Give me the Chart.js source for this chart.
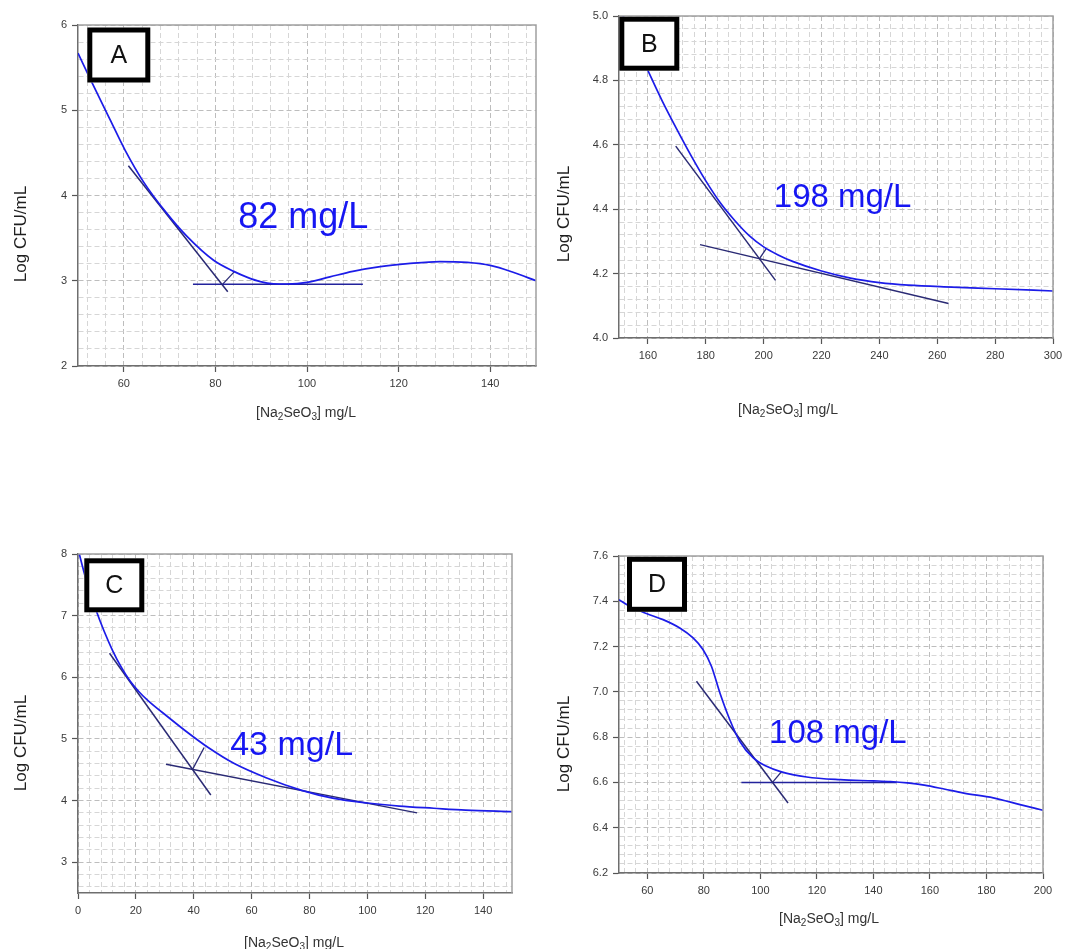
<!DOCTYPE html>
<html>
<head>
<meta charset="utf-8">
<script src="https://cdn.jsdelivr.net/npm/chart.js@4.4.0/dist/chart.umd.min.js"></script>
<style>
html, body { margin: 0; padding: 0; background: #ffffff; }
body { width: 1083px; height: 949px; position: relative; overflow: hidden; }
canvas { position: absolute; display: block; }
</style>
</head>
<body>
<canvas id="cA" width="541" height="440" style="left:0px;top:0px;width:541px;height:440px"></canvas>
<canvas id="cB" width="542" height="440" style="left:541px;top:0px;width:542px;height:440px"></canvas>
<canvas id="cC" width="541" height="509" style="left:0px;top:440px;width:541px;height:509px"></canvas>
<canvas id="cD" width="542" height="509" style="left:541px;top:440px;width:542px;height:509px"></canvas>
<script>
// ================= DATA =================
// Panel A
const aCurveX = [50, 53, 57, 60.3, 64.3, 69.4, 73.8, 79.6, 84, 87, 89.8, 92.7, 95.6, 100, 105, 110, 116, 122, 129, 135, 140, 145, 150];
const aCurveY = [5.67, 5.33, 4.89, 4.53, 4.16, 3.79, 3.52, 3.24, 3.11, 3.04, 2.99, 2.965, 2.962, 2.98, 3.045, 3.11, 3.165, 3.2, 3.225, 3.215, 3.18, 3.1, 3.0];
const aTanSteepX = [61.0, 82.7];
const aTanSteepY = [4.35, 2.87];
const aTanFlatX = [75.1, 112.2];
const aTanFlatY = [2.96, 2.96];
const aBisX = [81.6, 84.2];
const aBisY = [2.96, 3.11];
const aXTicks = [60, 80, 100, 120, 140];
const aYTicks = ['2', '3', '4', '5', '6'];

// Panel B
const bCurveX = [150, 156, 160, 165, 170, 175, 180, 185, 190, 195, 200, 205, 210, 220, 230, 240, 250, 265, 280, 300];
const bCurveY = [5.03, 4.905, 4.83, 4.735, 4.648, 4.565, 4.488, 4.42, 4.365, 4.318, 4.283, 4.258, 4.238, 4.208, 4.186, 4.172, 4.164, 4.158, 4.153, 4.146];
const bTanSteepX = [169.6, 204.1];
const bTanSteepY = [4.596, 4.179];
const bTanFlatX = [178, 263.9];
const bTanFlatY = [4.29, 4.107];
const bBisX = [198.5, 201];
const bBisY = [4.246, 4.279];
const bXTicks = [160, 180, 200, 220, 240, 260, 280, 300];
const bYTicks = ['4.0', '4.2', '4.4', '4.6', '4.8', '5.0'];

// Panel C
const cCurveX = [0, 3, 6, 9, 12, 15, 18, 21, 24, 31, 38, 45, 54, 65, 77, 88, 100, 111, 123, 134, 150];
const cCurveY = [8.08, 7.55, 7.12, 6.75, 6.43, 6.16, 5.94, 5.77, 5.63, 5.36, 5.10, 4.86, 4.60, 4.37, 4.17, 4.04, 3.96, 3.91, 3.875, 3.845, 3.82];
const cTanSteepX = [10.9, 45.9];
const cTanSteepY = [6.39, 4.09];
const cTanFlatX = [30.4, 117.2];
const cTanFlatY = [4.59, 3.80];
const cBisX = [39.6, 43.6];
const cBisY = [4.506, 4.86];
const cXTicks = [0, 20, 40, 60, 80, 100, 120, 140];
const cYTicks = ['3', '4', '5', '6', '7', '8'];

// Panel D
const dCurveX = [50, 53.8, 59.7, 65.6, 71.5, 76.2, 79.7, 82.7, 85.7, 89.2, 92.7, 97.5, 102.2, 106.9, 116.4, 128.2, 140, 146, 152, 158, 165, 172, 182.4, 191.9, 200];
const dCurveY = [7.407, 7.378, 7.346, 7.319, 7.282, 7.238, 7.187, 7.113, 6.995, 6.877, 6.782, 6.708, 6.671, 6.649, 6.624, 6.612, 6.607, 6.604, 6.598, 6.588, 6.571, 6.553, 6.532, 6.502, 6.477];
const dTanSteepX = [77.4, 109.8];
const dTanSteepY = [7.047, 6.509];
const dTanFlatX = [93.3, 148.2];
const dTanFlatY = [6.60, 6.60];
const dBisX = [104.3, 107.5];
const dBisY = [6.60, 6.648];
const dXTicks = [60, 80, 100, 120, 140, 160, 180, 200];
const dYTicks = ['6.2', '6.4', '6.6', '6.8', '7.0', '7.2', '7.4', '7.6'];

// ================= HELPERS =================
const FONT = '"Liberation Sans", Arial, Helvetica, sans-serif';
const BLUE = '#1c1ce8';
const NAVY = '#2a2a74';
const NAVY2 = '#23239c';

function pts(xs, ys) { return xs.map((x, i) => ({ x: x, y: ys[i] })); }
function near(v, arr) { return arr.some(t => Math.abs(v - parseFloat(t)) < 1e-6); }
function labelOf(v, arr) {
  for (const t of arr) { if (Math.abs(v - parseFloat(t)) < 1e-6) return String(t); }
  return '';
}
function minorTicks(step) {
  return (scale) => {
    const out = [];
    const k0 = Math.ceil(scale.min / step - 1e-6), k1 = Math.floor(scale.max / step + 1e-6);
    for (let k = k0; k <= k1; k++) out.push({ value: +(k * step).toFixed(6) });
    scale.ticks = out;
  };
}

function decor(p) {
  return {
    id: 'decor' + p.letter,
    afterDatasetsDraw(chart) {
      const { ctx, chartArea: ca, scales } = chart;
      const x = scales.x, y = scales.y;
      ctx.save();
      // frame (top & right)
      ctx.strokeStyle = '#a0a0a0';
      ctx.lineWidth = 1.5;
      ctx.setLineDash([]);
      ctx.beginPath();
      ctx.moveTo(ca.left, ca.top);
      ctx.lineTo(ca.right, ca.top);
      ctx.lineTo(ca.right, ca.bottom);
      ctx.stroke();
      // value annotation
      ctx.fillStyle = '#1616f2';
      ctx.font = p.noteSize + 'px ' + FONT;
      ctx.textAlign = 'left';
      ctx.textBaseline = 'alphabetic';
      ctx.fillText(p.note, x.getPixelForValue(p.noteX), y.getPixelForValue(p.noteY));
      // letter box
      const bx = ca.left + p.box[0], by = ca.top + p.box[1], bw = p.box[2], bh = p.box[3], lw = 5;
      ctx.fillStyle = '#ffffff';
      ctx.fillRect(bx, by, bw, bh);
      ctx.strokeStyle = '#000000';
      ctx.lineWidth = lw;
      ctx.strokeRect(bx + lw / 2, by + lw / 2, bw - lw, bh - lw);
      ctx.fillStyle = '#111111';
      ctx.font = '25px ' + FONT;
      ctx.textAlign = 'center';
      ctx.textBaseline = 'middle';
      ctx.fillText(p.letter, bx + bw / 2, by + bh / 2 + 1);
      // y title
      ctx.save();
      ctx.translate(p.yt[0], p.yt[1]);
      ctx.rotate(-Math.PI / 2);
      ctx.fillStyle = '#1e1e1e';
      ctx.font = '17px ' + FONT;
      ctx.textAlign = 'center';
      ctx.textBaseline = 'middle';
      ctx.fillText('Log CFU/mL', 0, 0);
      ctx.restore();
      // x title with subscripts
      const segs = [['[Na', 0], ['2', 1], ['SeO', 0], ['3', 1], ['] mg/L', 0]];
      const big = '14px ' + FONT, small = '10px ' + FONT;
      let w = 0;
      for (const s of segs) { ctx.font = s[1] ? small : big; w += ctx.measureText(s[0]).width; }
      let cx = p.xt[0] - w / 2;
      ctx.fillStyle = '#333333';
      ctx.textAlign = 'left';
      ctx.textBaseline = 'middle';
      for (const s of segs) {
        ctx.font = s[1] ? small : big;
        ctx.fillText(s[0], cx, p.xt[1] + (s[1] ? 4 : 0));
        cx += ctx.measureText(s[0]).width;
      }
      ctx.restore();
    }
  };
}

function makeChart(id, P) {
  const ds = [
    { data: pts(P.curve[0], P.curve[1]), borderColor: BLUE, borderWidth: 1.7, cubicInterpolationMode: 'monotone' },
    { data: pts(P.steep[0], P.steep[1]), borderColor: NAVY, borderWidth: 1.5 },
    { data: pts(P.flat[0], P.flat[1]), borderColor: P.flatColor, borderWidth: 1.5 },
    { data: pts(P.bis[0], P.bis[1]), borderColor: NAVY, borderWidth: 1.3 }
  ];
  ds.forEach(d => { d.pointRadius = 0; d.fill = false; });
  const gridColor = (labels) => (c) => (c.tick && near(c.tick.value, labels)) ? '#bdbdbd' : '#d6d6d6';
  const tickColor = (labels) => (c) => (c.tick && near(c.tick.value, labels)) ? '#555555' : 'rgba(0,0,0,0)';
  return new Chart(document.getElementById(id), {
    type: 'line',
    data: { datasets: ds },
    options: {
      responsive: false,
      animation: false,
      events: [],
      layout: { padding: { top: P.area.T, right: P.w - P.area.R, left: 0, bottom: 0 } },
      plugins: { legend: { display: false }, tooltip: { enabled: false } },
      scales: {
        x: {
          type: 'linear', min: P.xRange[0], max: P.xRange[1],
          afterBuildTicks: minorTicks(P.xStep),
          afterFit: (s) => { s.height = P.h - P.area.B; },
          ticks: { autoSkip: false, maxRotation: 0, padding: 5, color: '#3a3a3a', font: { family: FONT, size: 11 },
                   callback: (v) => labelOf(v, P.xTicks) },
          grid: { color: gridColor(P.xTicks), lineWidth: 1, tickLength: 6, tickColor: tickColor(P.xTicks), tickWidth: 1.2 },
          border: { display: true, color: '#6e6e6e', width: 1.5, dash: [5, 3] }
        },
        y: {
          type: 'linear', min: P.yRange[0], max: P.yRange[1],
          afterBuildTicks: minorTicks(P.yStep),
          afterFit: (s) => { s.width = P.area.L; },
          ticks: { autoSkip: false, padding: 5, color: '#3a3a3a', font: { family: FONT, size: 11 },
                   callback: (v) => labelOf(v, P.yTicks) },
          grid: { color: gridColor(P.yTicks), lineWidth: 1, tickLength: 6, tickColor: tickColor(P.yTicks), tickWidth: 1.2 },
          border: { display: true, color: '#6e6e6e', width: 1.5, dash: [5, 3] }
        }
      }
    },
    plugins: [decor(P)]
  });
}

makeChart('cA', {
  letter: 'A', w: 541, h: 440, area: { L: 78, T: 25, R: 536, B: 366 },
  xRange: [50, 150], yRange: [2, 6], xStep: 4, yStep: 0.2, xTicks: aXTicks, yTicks: aYTicks,
  curve: [aCurveX, aCurveY], steep: [aTanSteepX, aTanSteepY], flat: [aTanFlatX, aTanFlatY], bis: [aBisX, aBisY],
  flatColor: NAVY2, note: '82 mg/L', noteX: 85, noteY: 3.62, noteSize: 36,
  box: [9.3, 2.5, 63, 55], yt: [21, 234], xt: [306, 413]
});
makeChart('cB', {
  letter: 'B', w: 542, h: 440, area: { L: 78, T: 16, R: 512, B: 338 },
  xRange: [150, 300], yRange: [4.0, 5.0], xStep: 4, yStep: 0.04, xTicks: bXTicks, yTicks: bYTicks,
  curve: [bCurveX, bCurveY], steep: [bTanSteepX, bTanSteepY], flat: [bTanFlatX, bTanFlatY], bis: [bBisX, bBisY],
  flatColor: NAVY, note: '198 mg/L', noteX: 203.5, noteY: 4.407, noteSize: 33,
  box: [0.3, 0.7, 60, 54], yt: [23.5, 214], xt: [247, 410]
});
makeChart('cC', {
  letter: 'C', w: 541, h: 509, area: { L: 78, T: 114, R: 512, B: 453 },
  xRange: [0, 150], yRange: [2.5, 8], xStep: 4, yStep: 0.2, xTicks: cXTicks, yTicks: cYTicks,
  curve: [cCurveX, cCurveY], steep: [cTanSteepX, cTanSteepY], flat: [cTanFlatX, cTanFlatY], bis: [cBisX, cBisY],
  flatColor: NAVY, note: '43 mg/L', noteX: 52.6, noteY: 4.74, noteSize: 34,
  box: [6.3, 4.3, 60, 54], yt: [21, 303], xt: [294, 503]
});
makeChart('cD', {
  letter: 'D', w: 542, h: 509, area: { L: 78, T: 116, R: 502, B: 433 },
  xRange: [50, 200], yRange: [6.2, 7.6], xStep: 4, yStep: 0.04, xTicks: dXTicks, yTicks: dYTicks,
  curve: [dCurveX, dCurveY], steep: [dTanSteepX, dTanSteepY], flat: [dTanFlatX, dTanFlatY], bis: [dBisX, dBisY],
  flatColor: NAVY2, note: '108 mg/L', noteX: 103.1, noteY: 6.775, noteSize: 33,
  box: [8, 0.8, 60, 55], yt: [23.5, 304], xt: [288, 479]
});
</script>
</body>
</html>
